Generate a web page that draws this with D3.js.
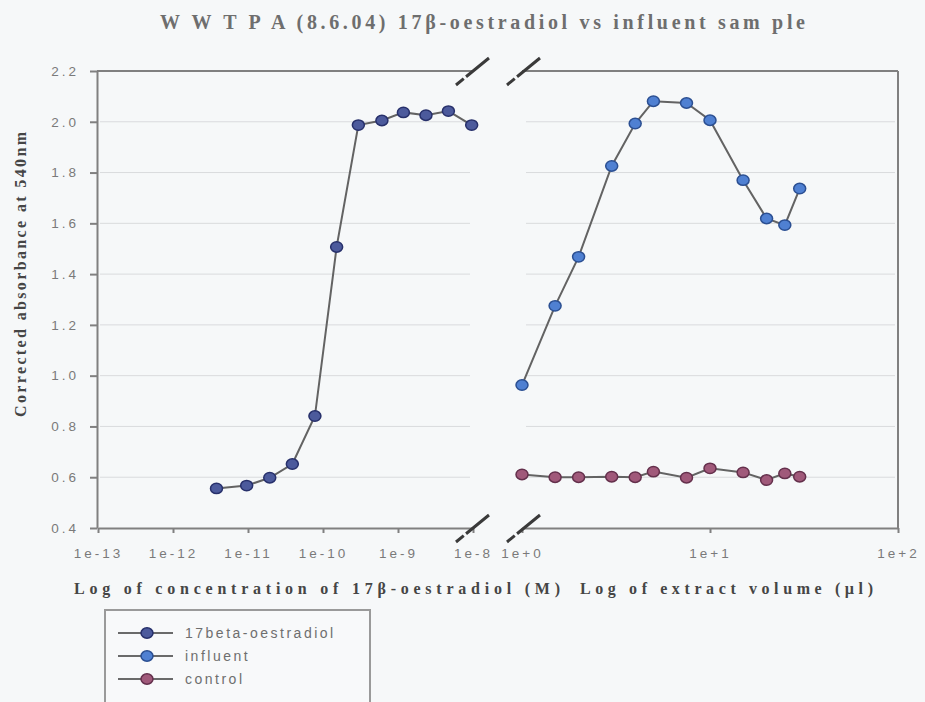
<!DOCTYPE html>
<html lang="en">
<head>
  <meta charset="UTF-8">
  <title>WWTP A 17β-oestradiol vs influent</title>
  <script src="https://d3js.org/d3.v7.min.js"></script>
  <style>
    body {
      margin: 0;
      background-color: #f6f8f9;
    }
    svg {
      display: block;
      background-color: #f6f8f9;
    }
    .serif {
      font-family: "Liberation Serif", "DejaVu Serif", serif;
      font-weight: bold;
    }
    .tick text {
      font-family: "Liberation Sans", Arial, sans-serif;
      font-size: 13.5px;
      fill: #7a7a7a;
      letter-spacing: 3px;
    }
    .axis path, .axis line {
      stroke: #808080;
      stroke-width: 2;
    }
    .grid {
      stroke: #d9dbdd;
      stroke-width: 1;
    }
    .series {
      fill: none;
      stroke: #636363;
      stroke-width: 2;
    }
  </style>
</head>
<body>
  <div id="chart"></div>

  <script>
    // left panel: 17beta-oestradiol standard curve
    const estradiolConc = [3.8e-12, 9.6e-12, 1.95e-11, 3.9e-11, 7.8e-11, 1.52e-10, 2.96e-10, 6.1e-10, 1.18e-9, 2.36e-9, 4.7e-9, 9.6e-9];
    const estradiolAbs = [0.556, 0.567, 0.598, 0.652, 0.841, 1.507, 1.987, 2.005, 2.037, 2.026, 2.042, 1.987];

    // right panel: influent extract and control
    const extractVol = [1, 1.5, 2, 3, 4, 5, 7.5, 10, 15, 20, 25, 30];
    const influentAbs = [0.963, 1.275, 1.468, 1.826, 1.993, 2.081, 2.074, 2.006, 1.770, 1.619, 1.593, 1.737];
    const controlAbs = [0.611, 0.600, 0.600, 0.602, 0.600, 0.622, 0.598, 0.635, 0.619, 0.589, 0.615, 0.602];

    const yTicks = [0.4, 0.6, 0.8, 1.0, 1.2, 1.4, 1.6, 1.8, 2.0, 2.2];
    const concTicks = [1e-13, 1e-12, 1e-11, 1e-10, 1e-9, 1e-8];
    const concLabels = ["1e-13", "1e-12", "1e-11", "1e-10", "1e-9", "1e-8"];
    const volTicks = [1, 10, 100];
    const volLabels = ["1e+0", "1e+1", "1e+2"];

    const seriesNames = ["17beta-oestradiol", "influent", "control"];
    const seriesFill = ["#4c5a9c", "#4f80d2", "#a0597a"];
    const seriesStroke = ["#27306b", "#2b4f92", "#64304c"];

    const w = 925;
    const h = 702;

    const svg = d3.select("#chart")
                  .append("svg")
                  .attr("width", w)
                  .attr("height", h);

    const yScale = d3.scaleLinear().domain([0.4, 2.2]).range([528, 71]);
    const xLeft = d3.scaleLog().domain([1e-13, 1e-8]).range([98, 473]);
    const xRight = d3.scaleLog().domain([1, 100]).range([522, 898]);

    // grid lines
    const gridVals = yTicks.filter(v => v > 0.45 && v < 2.15);
    [[100, 470], [526, 895]].forEach(([x0, x1]) => {
      svg.append("g").selectAll("line")
         .data(gridVals)
         .enter()
         .append("line")
         .attr("class", "grid")
         .attr("x1", x0)
         .attr("x2", x1)
         .attr("y1", d => yScale(d))
         .attr("y2", d => yScale(d));
    });

    // y axis
    svg.append("g")
       .attr("class", "axis")
       .attr("transform", "translate(97,0)")
       .call(d3.axisLeft(yScale)
               .tickValues(yTicks)
               .tickFormat(d3.format(".1f"))
               .tickSize(7)
               .tickSizeOuter(0)
               .tickPadding(11))
       .selectAll(".tick line").attr("stroke-width", 1);

    // x axes
    svg.append("g")
       .attr("class", "axis")
       .attr("transform", "translate(0,528)")
       .call(d3.axisBottom(xLeft)
               .tickValues(concTicks)
               .tickFormat((d, i) => concLabels[i])
               .tickSize(5)
               .tickSizeOuter(0)
               .tickPadding(15));

    svg.append("g")
       .attr("class", "axis")
       .attr("transform", "translate(0,528)")
       .call(d3.axisBottom(xRight)
               .tickValues(volTicks)
               .tickFormat((d, i) => volLabels[i])
               .tickSize(5)
               .tickSizeOuter(0)
               .tickPadding(15));

    // frame: top borders, right border
    const frame = svg.append("g").attr("stroke", "#808080").attr("stroke-width", 2);
    frame.append("line").attr("x1", 97).attr("x2", xLeft(1e-8)).attr("y1", yScale(2.2)).attr("y2", yScale(2.2));
    frame.append("line").attr("x1", xRight(1)).attr("x2", xRight(100)).attr("y1", yScale(2.2)).attr("y2", yScale(2.2));
    frame.append("line").attr("x1", xRight(100)).attr("x2", xRight(100)).attr("y1", yScale(2.2)).attr("y2", yScale(0.4));

    // axis break marks
    const breaks = svg.append("g").attr("stroke", "#3a3a3a").attr("stroke-width", 3);
    [yScale(2.2), yScale(0.4)].forEach(yy => {
      [xLeft(1e-8), xRight(1) + 2].forEach(xx => {
        breaks.append("line")
              .attr("x1", xx - 17).attr("y1", yy + 14)
              .attr("x2", xx + 16).attr("y2", yy - 13)
              .attr("stroke-dasharray", "10,3,40");
      });
    });

    // series
    const series = [
      { x: xLeft, xs: estradiolConc, ys: estradiolAbs, k: 0 },
      { x: xRight, xs: extractVol, ys: influentAbs, k: 1 },
      { x: xRight, xs: extractVol, ys: controlAbs, k: 2 }
    ];

    series.forEach(s => {
      const pts = s.xs.map((v, i) => [s.x(v), yScale(s.ys[i])]);
      svg.append("path")
         .attr("class", "series")
         .attr("d", d3.line()(pts));
      svg.append("g").selectAll("ellipse")
         .data(pts)
         .enter()
         .append("ellipse")
         .attr("cx", d => d[0])
         .attr("cy", d => d[1])
         .attr("rx", 6)
         .attr("ry", 5.2)
         .attr("fill", seriesFill[s.k])
         .attr("stroke", seriesStroke[s.k])
         .attr("stroke-width", 1.5);
    });

    // title
    svg.append("text")
       .attr("class", "serif")
       .attr("x", 160)
       .attr("y", 29)
       .attr("textLength", 645)
       .attr("lengthAdjust", "spacing")
       .attr("font-size", 20)
       .attr("fill", "#6e6e6e")
       .text("W W T P A (8.6.04) 17β-oestradiol vs influent sam ple");

    // axis titles
    svg.append("text")
       .attr("class", "serif")
       .attr("x", 74)
       .attr("y", 594)
       .attr("textLength", 486)
       .attr("lengthAdjust", "spacing")
       .attr("font-size", 16)
       .attr("fill", "#454545")
       .text("Log of concentration of 17β-oestradiol (M)");

    svg.append("text")
       .attr("class", "serif")
       .attr("x", 580)
       .attr("y", 594)
       .attr("textLength", 293)
       .attr("lengthAdjust", "spacing")
       .attr("font-size", 16)
       .attr("fill", "#454545")
       .text("Log of extract volume (µl)");

    svg.append("text")
       .attr("class", "serif")
       .attr("transform", "translate(26,417) rotate(-90)")
       .attr("textLength", 285)
       .attr("lengthAdjust", "spacing")
       .attr("font-size", 16)
       .attr("fill", "#454545")
       .text("Corrected absorbance at 540nm");

    // legend
    const legend = svg.append("g");
    legend.append("rect")
          .attr("x", 105)
          .attr("y", 610)
          .attr("width", 265)
          .attr("height", 100)
          .attr("fill", "#f8f9fa")
          .attr("stroke", "#9a9a9a")
          .attr("stroke-width", 2);

    seriesNames.forEach((name, i) => {
      const ly = 633 + i * 23;
      legend.append("line")
            .attr("x1", 118).attr("x2", 173)
            .attr("y1", ly).attr("y2", ly)
            .attr("stroke", "#6a6a6a")
            .attr("stroke-width", 2);
      legend.append("ellipse")
            .attr("cx", 147).attr("cy", ly)
            .attr("rx", 6).attr("ry", 5.2)
            .attr("fill", seriesFill[i])
            .attr("stroke", seriesStroke[i])
            .attr("stroke-width", 1.5);
      legend.append("text")
            .attr("x", 185)
            .attr("y", ly + 5)
            .attr("font-family", "'Liberation Sans', Arial, sans-serif")
            .attr("font-size", 14)
            .attr("letter-spacing", "2.5px")
            .attr("fill", "#6e6e6e")
            .text(name);
    });
  </script>
</body>
</html>
